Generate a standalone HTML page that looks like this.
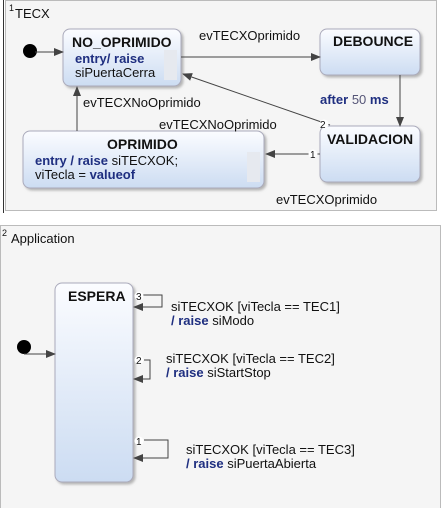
<!DOCTYPE html>
<html><head><meta charset="utf-8"><style>
body{margin:0;width:442px;height:508px;background:#fff;overflow:hidden;font-family:"Liberation Sans",sans-serif}
text{font-family:"Liberation Sans",sans-serif;font-size:13px;fill:#111}
.b{font-weight:bold;font-size:14px}.k{fill:#1f2f80;font-weight:bold}
</style></head><body>
<svg width="442" height="508" xmlns="http://www.w3.org/2000/svg">
<defs>
<linearGradient id="g" x1="0" y1="0" x2="0" y2="1"><stop offset="0" stop-color="#fbfcff"/><stop offset="1" stop-color="#ccdcf2"/></linearGradient>
<marker id="a" markerWidth="10" markerHeight="8" refX="9" refY="4" orient="auto" markerUnits="userSpaceOnUse"><path d="M0,0 L10,4 L0,8 z" fill="#444"/></marker>
<filter id="s" x="-10%" y="-10%" width="130%" height="130%"><feDropShadow dx="2" dy="2" stdDeviation="1.2" flood-color="#888" flood-opacity="0.6"/></filter>
</defs>
<rect x="5.5" y="0.5" width="431" height="210" fill="#f5f5f5" stroke="#bbb"/>
<line x1="3.5" y1="0" x2="3.5" y2="213" stroke="#333"/>
<text x="9" y="11" style="font-size:9px">1</text><text x="15" y="18">TECX</text>
<rect x="63" y="29" width="118" height="57" rx="7" fill="url(#g)" stroke="#aab" filter="url(#s)"/>
<text x="72" y="47" class="b">NO_OPRIMIDO</text>
<text x="75" y="63" class="k">entry/ raise</text><text x="75" y="77">siPuertaCerra</text>
<rect x="164" y="50" width="13" height="30" fill="#e6e9ef"/>
<rect x="320" y="29" width="100" height="46" rx="7" fill="url(#g)" stroke="#aab" filter="url(#s)"/>
<text x="333" y="46" class="b">DEBOUNCE</text>
<rect x="320" y="126" width="100" height="56" rx="7" fill="url(#g)" stroke="#aab" filter="url(#s)"/>
<text x="327" y="144" class="b">VALIDACION</text>
<rect x="23" y="131" width="241" height="57" rx="7" fill="url(#g)" stroke="#aab" filter="url(#s)"/>
<text x="107" y="149" class="b">OPRIMIDO</text>
<text x="35" y="165"><tspan class="k">entry / raise</tspan> siTECXOK;</text>
<text x="35" y="179">viTecla = <tspan class="k">valueof</tspan></text>
<rect x="247" y="152" width="13" height="30" fill="#e6e9ef"/>
<circle cx="30" cy="51" r="7" fill="#000"/>
<line x1="35" y1="52" x2="63" y2="52" stroke="#444" marker-end="url(#a)"/>
<line x1="181" y1="57" x2="320" y2="57" stroke="#444" marker-end="url(#a)"/>
<text x="199" y="40">evTECXOprimido</text>
<line x1="400" y1="75" x2="400" y2="126" stroke="#444" marker-end="url(#a)"/>
<text x="320" y="104"><tspan class="k">after</tspan> <tspan style="fill:#557">50</tspan> <tspan class="k">ms</tspan></text>
<line x1="330" y1="125" x2="183" y2="74" stroke="#444" marker-end="url(#a)"/>
<circle cx="324" cy="124" r="4.5" fill="#fff"/><text x="320" y="128" style="font-size:10px">2</text>
<text x="159" y="129">evTECXNoOprimido</text>
<line x1="320" y1="154" x2="266" y2="154" stroke="#444" marker-end="url(#a)"/>
<circle cx="313" cy="154" r="4.5" fill="#fff"/><text x="310" y="158" style="font-size:10px">1</text>
<line x1="77" y1="131" x2="77" y2="87" stroke="#444" marker-end="url(#a)"/>
<text x="83" y="107">evTECXNoOprimido</text>
<text x="276" y="204">evTECXOprimido</text>
<rect x="0.5" y="225.5" width="440" height="283" fill="#f5f5f5" stroke="#bbb"/>
<text x="2" y="236" style="font-size:9px">2</text><text x="11" y="243">Application</text>
<rect x="55" y="283" width="78" height="199" rx="7" fill="url(#g)" stroke="#aab" filter="url(#s)"/>
<text x="68" y="301" class="b">ESPERA</text>
<circle cx="24" cy="347" r="7" fill="#000"/>
<polyline points="24,354 55,354" fill="none" stroke="#444" marker-end="url(#a)"/>
<polyline points="140,295 162,295 162,307 134,307" fill="none" stroke="#444" marker-end="url(#a)"/>
<circle cx="139" cy="296" r="4.5" fill="#fff"/><text x="136" y="300" style="font-size:10px">3</text>
<text x="171" y="311">siTECXOK [viTecla == TEC1]</text>
<text x="171" y="325"><tspan class="k">/ raise</tspan> siModo</text>
<polyline points="144,360 150,360 150,379 134,379" fill="none" stroke="#444" marker-end="url(#a)"/>
<circle cx="139" cy="360" r="4.5" fill="#fff"/><text x="136" y="364" style="font-size:10px">2</text>
<text x="166" y="363">siTECXOK [viTecla == TEC2]</text>
<text x="166" y="377"><tspan class="k">/ raise</tspan> siStartStop</text>
<polyline points="144,440 168,440 168,458 134,458" fill="none" stroke="#444" marker-end="url(#a)"/>
<circle cx="139" cy="441" r="4.5" fill="#fff"/><text x="136" y="445" style="font-size:10px">1</text>
<text x="186" y="454">siTECXOK [viTecla == TEC3]</text>
<text x="186" y="468"><tspan class="k">/ raise</tspan> siPuertaAbierta</text>
</svg>
</body></html>
